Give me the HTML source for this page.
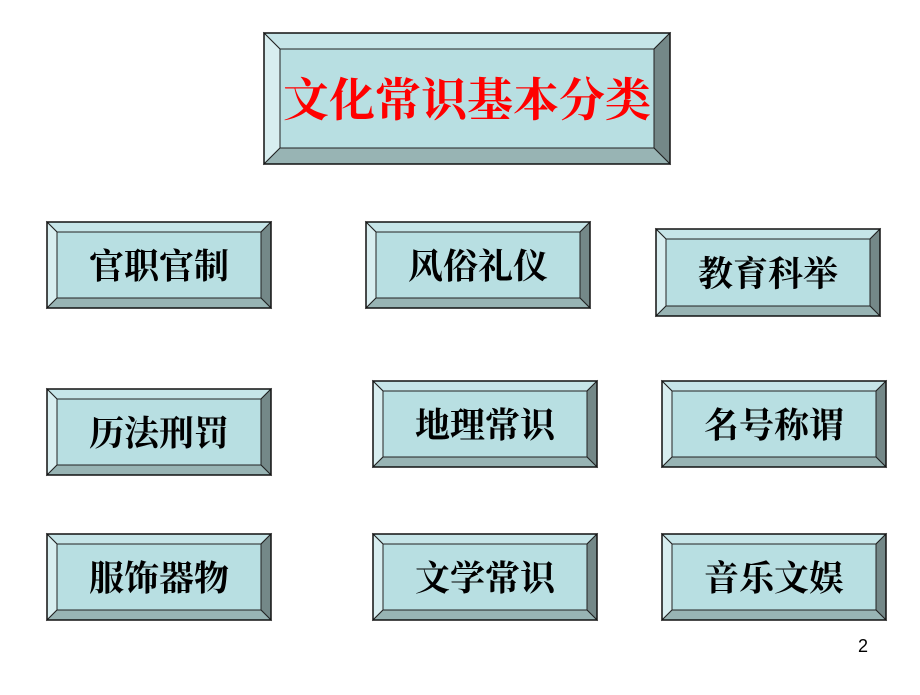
<!DOCTYPE html>
<html><head><meta charset="utf-8"><style>
body{margin:0;background:#fff;width:920px;height:690px;overflow:hidden}
svg text{font-family:"Liberation Serif","Noto Serif CJK SC","Noto Sans CJK SC",serif;font-weight:bold}
</style></head><body>
<svg width="920" height="690" xmlns="http://www.w3.org/2000/svg">
<g id="boxes"></g>
<text x="858" y="652" font-size="18" style="font-family:'Liberation Sans',sans-serif;font-weight:normal">2</text>
</svg>
<script>
const svg=document.getElementById('boxes');
function box(x1,y1,x2,y2,b,label,fs,color){
 const p=(pts,c)=>`<polygon points="${pts}" fill="${c}" stroke="#222" stroke-width="1"/>`;
 let s='';
 s+=p(`${x1},${y1} ${x2},${y1} ${x2-b},${y1+b} ${x1+b},${y1+b}`,'#c6e5e8');
 s+=p(`${x1},${y1} ${x1+b},${y1+b} ${x1+b},${y2-b} ${x1},${y2}`,'#d8eef0');
 s+=p(`${x2},${y1} ${x2},${y2} ${x2-b},${y2-b} ${x2-b},${y1+b}`,'#748888');
 s+=p(`${x1},${y2} ${x1+b},${y2-b} ${x2-b},${y2-b} ${x2},${y2}`,'#98b4b4');
 s+=`<rect x="${x1+b}" y="${y1+b}" width="${x2-x1-2*b}" height="${y2-y1-2*b}" fill="#b8dfe2" stroke="#222" stroke-width="1"/>`;
 s+=`<rect x="${x1}" y="${y1}" width="${x2-x1}" height="${y2-y1}" fill="none" stroke="#111" stroke-width="1.5"/>`;
 s+=`<text x="${(x1+x2)/2}" y="${(y1+y2)/2+fs*0.38}" text-anchor="middle" font-size="${fs}" fill="${color}">${label}</text>`;
 svg.insertAdjacentHTML('beforeend',s);
}
box(264,33,670,164,16,'文化常识基本分类',46,'#ff0000');
const b=[[47,222,271,308,'官职官制'],[366,222,590,308,'风俗礼仪'],[656,229,880,316,'教育科举'],
[47,389,271,475,'历法刑罚'],[373,381,597,467,'地理常识'],[662,381,886,467,'名号称谓'],
[47,534,271,620,'服饰器物'],[373,534,597,620,'文学常识'],[662,534,886,620,'音乐文娱']];
b.forEach(a=>box(a[0],a[1],a[2],a[3],10,a[4],35,'#000'));
</script>
</body></html>
